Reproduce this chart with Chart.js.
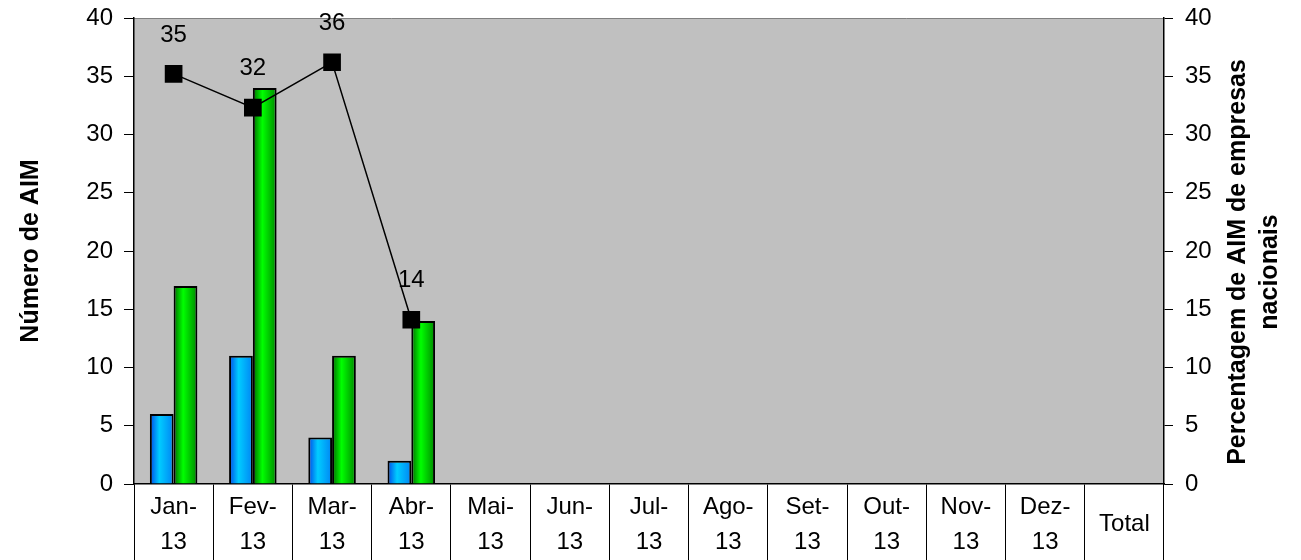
<!DOCTYPE html>
<html>
<head>
<meta charset="utf-8">
<script src="https://cdn.jsdelivr.net/npm/chart.js@4.4.1/dist/chart.umd.min.js"></script>
<style>
    html, body { margin: 0; padding: 0; background: #fff; }
    #wrap { width: 1301px; height: 560px; }
</style>
</head>
<body>
<div id="wrap"><canvas id="chart" width="1301" height="560"></canvas></div>
<script>
// ── Data ──
const categories = [
    ['Jan-', '13'], ['Fev-', '13'], ['Mar-', '13'], ['Abr-', '13'], ['Mai-', '13'], ['Jun-', '13'],
    ['Jul-', '13'], ['Ago-', '13'], ['Set-', '13'], ['Out-', '13'], ['Nov-', '13'], ['Dez-', '13'], 'Total'
];
const nacionais = [6, 11, 4, 2, null, null, null, null, null, null, null, null, null];
const totalAim = [17, 34, 11, 14, null, null, null, null, null, null, null, null, null];
const percentagem = [35.2, 32.3, 36.2, 14.1, null, null, null, null, null, null, null, null, null];
const yTicks = [0, 5, 10, 15, 20, 25, 30, 35, 40];

const leftTitle = 'Número de AIM';
const rightTitle = ['Percentagem de AIM de empresas', 'nacionais'];

const FONT = "'Liberation Sans', Arial, sans-serif";
const CAT_PCT = 0.6;

// cushion-like horizontal gradient across each bar
function barGradient(side, stops) {
    return (ctx) => {
        const chart = ctx.chart;
        const xs = chart.scales.x;
        if (!xs || !chart.chartArea || ctx.dataIndex === undefined) return stops[1];
        const center = xs.getPixelForValue(ctx.dataIndex);
        const bw = (xs.width / categories.length) * CAT_PCT / 2;
        const left = side < 0 ? center - bw : center;
        const g = chart.ctx.createLinearGradient(left, 0, left + bw, 0);
        g.addColorStop(0, stops[0]);
        g.addColorStop(0.4, stops[1]);
        g.addColorStop(1, stops[2]);
        return g;
    };
}

// gray plot area
const plotBackground = {
    id: 'plotBackground',
    beforeDraw(chart) {
        const { ctx, chartArea: a } = chart;
        ctx.save();
        ctx.fillStyle = '#c0c0c0';
        ctx.fillRect(a.left, a.top, a.right - a.left, a.bottom - a.top);
        ctx.strokeStyle = '#808080';
        ctx.lineWidth = 1;
        ctx.beginPath();
        ctx.moveTo(a.left, a.top + 0.5);
        ctx.lineTo(a.right, a.top + 0.5);
        ctx.stroke();
        ctx.restore();
    }
};

// value labels above the line markers
const pointLabels = {
    id: 'pointLabels',
    afterDatasetsDraw(chart) {
        const { ctx } = chart;
        const meta = chart.getDatasetMeta(0);
        ctx.save();
        ctx.font = `24px ${FONT}`;
        ctx.fillStyle = '#000';
        ctx.textAlign = 'center';
        ctx.textBaseline = 'middle';
        meta.data.forEach((pt, i) => {
            const v = percentagem[i];
            if (v == null) return;
            ctx.fillText(Math.round(v).toString(), pt.x, pt.y - 39);
        });
        ctx.restore();
    }
};

// axis titles (both read bottom to top)
const axisTitles = {
    id: 'axisTitles',
    afterDraw(chart) {
        const { ctx } = chart;
        ctx.save();
        ctx.font = `bold 25px ${FONT}`;
        ctx.fillStyle = '#000';
        ctx.textAlign = 'center';
        ctx.textBaseline = 'middle';
        ctx.translate(31, 251);
        ctx.rotate(-Math.PI / 2);
        ctx.fillText(leftTitle, 0, 0);
        ctx.restore();

        ctx.save();
        ctx.font = `bold 25px ${FONT}`;
        ctx.fillStyle = '#000';
        ctx.textAlign = 'center';
        ctx.textBaseline = 'middle';
        ctx.translate(1238, 262);
        ctx.rotate(-Math.PI / 2);
        ctx.fillText(rightTitle[0], 0, 0);
        ctx.fillText(rightTitle[1], -10, 32);
        ctx.restore();
    }
};

// keep the plot area fixed: drop the half-label padding the y scales ask for
function fixWidth(w) {
    return (scale) => {
        scale.width = w;
        scale.paddingTop = 0;
        scale.paddingBottom = 0;
    };
}

new Chart(document.getElementById('chart'), {
    data: {
        labels: categories,
        datasets: [
            {
                type: 'line',
                label: 'Percentagem',
                data: percentagem,
                yAxisID: 'y1',
                borderColor: '#000',
                borderWidth: 1.5,
                pointStyle: 'rect',
                pointRadius: 12.5,
                pointBackgroundColor: '#000',
                pointBorderColor: '#000',
                pointBorderWidth: 0,
                tension: 0,
                order: 0
            },
            {
                type: 'bar',
                label: 'Nacionais',
                data: nacionais,
                yAxisID: 'y',
                backgroundColor: barGradient(-1, ['#0048e8', '#00ccff', '#0084f4']),
                borderColor: '#000',
                borderWidth: 2,
                barPercentage: 1,
                categoryPercentage: CAT_PCT,
                order: 1
            },
            {
                type: 'bar',
                label: 'Total',
                data: totalAim,
                yAxisID: 'y',
                backgroundColor: barGradient(1, ['#006a00', '#00ff00', '#008a00']),
                borderColor: '#000',
                borderWidth: 2,
                barPercentage: 1,
                categoryPercentage: CAT_PCT,
                order: 1
            }
        ]
    },
    options: {
        responsive: false,
        animation: false,
        events: [],
        layout: { padding: { top: 18, left: 0, right: 0, bottom: 0 } },
        plugins: {
            legend: { display: false },
            tooltip: { enabled: false }
        },
        scales: {
            x: {
                offset: true,
                grid: {
                    offset: true,
                    drawOnChartArea: false,
                    drawTicks: true,
                    tickLength: 76,
                    color: '#000',
                    lineWidth: 1
                },
                border: { display: true, color: '#000', width: 1.5 },
                ticks: {
                    color: '#000',
                    font: { family: FONT, size: 24, lineHeight: 1.46 },
                    padding: -53,
                    crossAlign: 'center',
                    maxRotation: 0,
                    autoSkip: false
                },
                afterFit(scale) { scale.height = 76; }
            },
            y: {
                position: 'left',
                min: 0,
                max: 40,
                afterBuildTicks(scale) { scale.ticks = yTicks.map(v => ({ value: v })); },
                grid: { drawOnChartArea: false, drawTicks: true, tickLength: 10, color: '#000' },
                border: { display: true, color: '#000', width: 1.5 },
                ticks: { color: '#000', font: { family: FONT, size: 24 }, padding: 11 },
                afterFit: fixWidth(134)
            },
            y1: {
                position: 'right',
                min: 0,
                max: 40,
                afterBuildTicks(scale) { scale.ticks = yTicks.map(v => ({ value: v })); },
                grid: { drawOnChartArea: false, drawTicks: true, tickLength: 9, color: '#000' },
                border: { display: true, color: '#000', width: 1.5 },
                ticks: { color: '#000', font: { family: FONT, size: 24 }, padding: 12 },
                afterFit: fixWidth(137)
            }
        }
    },
    plugins: [plotBackground, pointLabels, axisTitles]
});
</script>
</body>
</html>
